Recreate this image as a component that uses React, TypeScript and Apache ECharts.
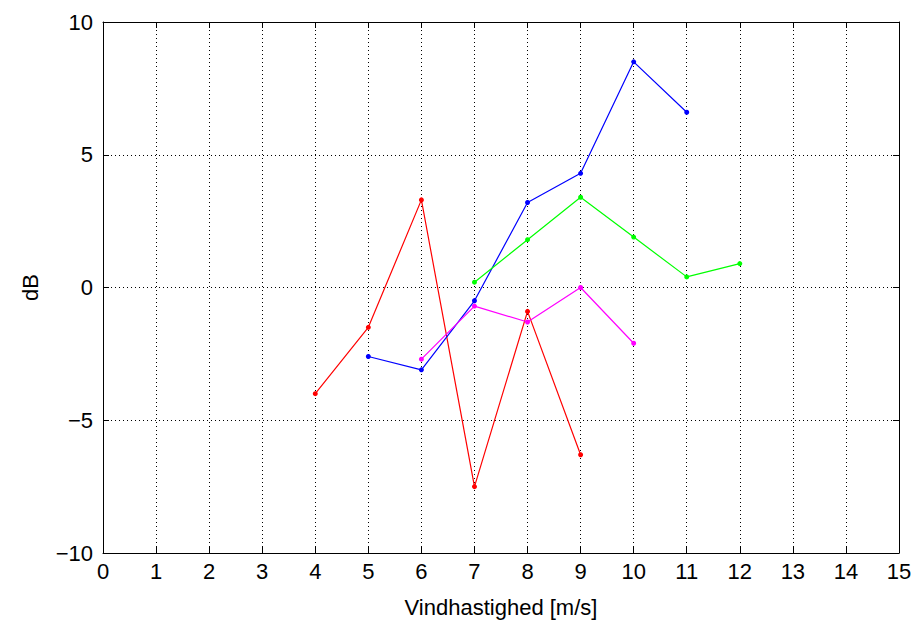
import React, { useEffect, useRef } from "react";
import * as echarts from "echarts";

const xTicks = [0, 15];
const redData = [[4, -4.0], [5, -1.5], [6, 3.3], [7, -7.5], [8, -0.9], [9, -6.3]];
const blueData = [[5, -2.6], [6, -3.1], [7, -0.5], [8, 3.2], [9, 4.3], [10, 8.5], [11, 6.6]];
const greenData = [[7, 0.2], [8, 1.8], [9, 3.4], [10, 1.9], [11, 0.4], [12, 0.9]];
const magentaData = [[6, -2.7], [7, -0.7], [8, -1.3], [9, 0.0], [10, -2.1]];

const font = "Liberation Sans, Arial, sans-serif";
const fmt = (v: number) => (v < 0 ? "\u2212" + Math.abs(v) : String(v));

export default function App() {
  const ref = useRef<HTMLDivElement>(null);
  useEffect(() => {
    document.body.style.margin = "0";
    const chart = echarts.init(ref.current!, undefined, { renderer: "svg" });
    const mk = (data: number[][], color: string) => ({
      type: "line",
      data,
      symbol: "circle",
      symbolSize: 5,
      itemStyle: { color },
      lineStyle: { color, width: 1.2 },
    });
    const axisCommon = {
      axisLine: { show: true, onZero: false, lineStyle: { color: "#000", width: 1 } },
      axisTick: { show: true, inside: true, length: 6, lineStyle: { color: "#000" } },
    };
    const ts = { fontFamily: font, fontSize: 22, color: "#000" };
    chart.setOption({
      animation: false,
      grid: { left: 103, right: 18, top: 22, bottom: 70 },
      xAxis: [
        {
          type: "value", min: xTicks[0], max: xTicks[1], interval: 1,
          name: "Vindhastighed [m/s]", nameLocation: "middle", nameGap: 43,
          nameTextStyle: ts,
          axisLabel: { ...ts, margin: 7 },
          splitLine: { show: true, lineStyle: { color: "#000", type: [1, 3], width: 1 } },
          ...axisCommon,
        },
        { type: "value", position: "top", min: 0, max: 15, interval: 1, axisLabel: { show: false }, splitLine: { show: false }, ...axisCommon },
      ],
      yAxis: [
        {
          type: "value", min: -10, max: 10, interval: 5,
          name: "dB", nameLocation: "middle", nameGap: 62,
          nameTextStyle: ts,
          axisLabel: { ...ts, formatter: fmt, margin: 10 },
          splitLine: { show: true, lineStyle: { color: "#000", type: [1, 3], width: 1 } },
          ...axisCommon,
        },
        { type: "value", position: "right", min: -10, max: 10, interval: 5, axisLabel: { show: false }, splitLine: { show: false }, ...axisCommon },
      ],
      series: [
        mk(redData, "#ff0000"),
        mk(blueData, "#0000ff"),
        mk(greenData, "#00ff00"),
        mk(magentaData, "#ff00ff"),
      ],
    });
    return () => chart.dispose();
  }, []);
  return <div ref={ref} style={{ width: 917, height: 623, background: "#fff" }} />;
}
